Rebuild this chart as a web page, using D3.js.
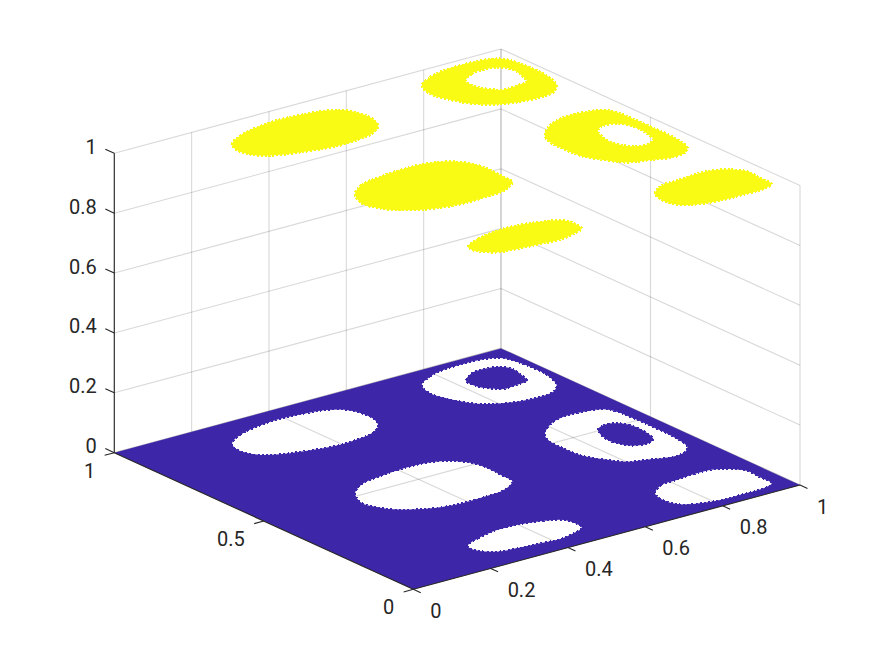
<!DOCTYPE html>
<html><head><meta charset="utf-8">
<script src="https://cdn.jsdelivr.net/npm/d3@7/dist/d3.min.js"></script>
<style>html,body{margin:0;padding:0;background:#fff}svg{display:block}text{font-family:Roboto,sans-serif;font-size:20px;fill:#262626}</style>
</head><body><div id="chart"></div>
<script>
const xTicks=[0,0.2,0.4,0.6,0.8,1];
const yTicks=[0,0.5,1];
const zTicks=[0,0.2,0.4,0.6,0.8,1];
const blobA=[[.225,.897],[.267,.925],[.313,.940],[.364,.949],[.406,.949],[.453,.943],[.497,.933],[.530,.908],[.543,.869],[.540,.827],[.524,.795],[.488,.770],[.451,.761],[.403,.756],[.356,.761],[.306,.774],[.264,.787],[.229,.809],[.213,.838],[.212,.870]];
const blobB=[[.247,.514],[.289,.547],[.349,.562],[.405,.568],[.464,.567],[.511,.549],[.543,.512],[.552,.469],[.549,.409],[.546,.375],[.505,.346],[.451,.338],[.381,.336],[.328,.347],[.290,.364],[.252,.393],[.233,.424],[.224,.463]];
const blobC=[[.244,.133],[.287,.154],[.347,.169],[.397,.168],[.441,.158],[.491,.133],[.498,.103],[.493,.074],[.460,.059],[.418,.049],[.370,.054],[.314,.060],[.269,.070],[.243,.097],[.238,.118]];
const ringD=[[.741,.930],[.784,.958],[.829,.972],[.883,.975],[.932,.972],[.968,.952],[.978,.919],[.982,.868],[.980,.821],[.960,.762],[.931,.736],[.892,.729],[.836,.735],[.784,.758],[.752,.794],[.734,.838],[.725,.881]];
const coreD=[[.828,.895],[.864,.922],[.898,.927],[.933,.917],[.946,.889],[.939,.852],[.927,.819],[.895,.812],[.859,.810],[.837,.832],[.825,.861]];
const ringE=[[.763,.547],[.807,.587],[.858,.608],[.909,.606],[.950,.593],[.963,.565],[.966,.514],[.967,.448],[.966,.380],[.953,.316],[.932,.296],[.895,.288],[.848,.304],[.801,.322],[.772,.362],[.749,.411],[.746,.463],[.748,.510]];
const coreE=[[.867,.504],[.894,.520],[.922,.512],[.937,.487],[.939,.444],[.925,.394],[.902,.380],[.869,.388],[.853,.412],[.848,.450]];
const blobF=[[.735,.142],[.775,.172],[.817,.176],[.874,.182],[.920,.176],[.964,.132],[.962,.085],[.960,.043],[.929,.030],[.876,.029],[.817,.030],[.772,.040],[.736,.060],[.724,.100]];
const outlines=[blobA,blobB,blobC,ringD,coreD,ringE,coreE,blobF];
const floorCorners=[[0,0],[1,0],[1,1],[0,1]];

const W=884,H=663;
// orthographic projection built from linear scales
const xToSX=d3.scaleLinear([0,1],[0,386.7]), xToSY=d3.scaleLinear([0,1],[0,-104.3]);
const yToSX=d3.scaleLinear([0,1],[0,-299]), yToSY=d3.scaleLinear([0,1],[0,-136.6]);
const zToSY=d3.scaleLinear([0,1],[0,-299.4]);
const ox=413.3, oy=589.3;
const P=(x,y,z)=>[ox+xToSX(x)+yToSX(y), oy+xToSY(x)+yToSY(y)+zToSY(z)];

const svg=d3.select('#chart').append('svg').attr('width',W).attr('height',H);
const line3=(pts)=>d3.line()(pts.map(p=>P(p[0],p[1],p[2])));
const gridG=svg.append('g').attr('fill','none').attr('stroke','#262626').attr('stroke-opacity',.18).attr('stroke-width',1.1);
const grid=(a,b)=>gridG.append('path').attr('d',line3([a,b]));
zTicks.forEach(z=>{ grid([0,1,z],[1,1,z]); grid([1,1,z],[1,0,z]); });
xTicks.forEach(x=>{ grid([x,1,0],[x,1,1]); grid([x,0,0],[x,1,0]); });
yTicks.forEach(y=>{ grid([1,y,0],[1,y,1]); grid([0,y,0],[1,y,0]); });

const ring=(pts,z)=>d3.line().curve(d3.curveCatmullRomClosed.alpha(.5))(pts.map(p=>P(p[0],p[1],z)));
const square=(pts,z)=>d3.line().curve(d3.curveLinearClosed)(pts.map(p=>P(p[0],p[1],z)));
// floor: value 0 cells
svg.append('path').attr('fill-rule','evenodd').attr('fill','#3e26a8')
  .attr('d',square(floorCorners,0)+outlines.map(o=>ring(o,0)).join(''));
// rough marker edge on the floor holes and islands
svg.append('path').attr('fill','none').attr('stroke','#3e26a8').attr('stroke-width',1.7).attr('stroke-dasharray','2 2.2')
  .attr('shape-rendering','crispEdges').attr('d',outlines.map(o=>ring(o,0)).join(''));
// top: value 1 cells
svg.append('path').attr('fill-rule','evenodd').attr('fill','#f9fb15')
  .attr('d',outlines.map(o=>ring(o,1)).join(''));
svg.append('path').attr('fill','none').attr('stroke','#f9fb15').attr('stroke-width',2.4).attr('stroke-dasharray','2 1.8')
  .attr('shape-rendering','crispEdges').attr('d',outlines.map(o=>ring(o,1)).join(''));

const axG=svg.append('g').attr('fill','none').attr('stroke','#262626').attr('stroke-width',1.1);
const ax=(a,b)=>axG.append('path').attr('d',line3([a,b]));
ax([0,0,0],[1,0,0]); ax([0,0,0],[0,1,0]); ax([0,1,0],[0,1,1]);
xTicks.forEach(x=>ax([x,0,0],[x,-0.025,0]));
yTicks.forEach(y=>ax([0,y,0],[-0.025,y,0]));
zTicks.forEach(z=>ax([0,1,z],[0,1.03,z]));

const label=(p,dx,dy,anchor,t)=>svg.append('text').attr('x',p[0]+dx).attr('y',p[1]+dy).attr('text-anchor',anchor).attr('dominant-baseline','central').text(t);
xTicks.forEach(x=>label(P(x,0,0),17,21.5,'start',x));
yTicks.forEach(y=>label(P(0,y,0),-19,18,'end',y));
zTicks.forEach(z=>label(P(0,1,z),-17.5,-6.5,'end',z));
</script></body></html>
